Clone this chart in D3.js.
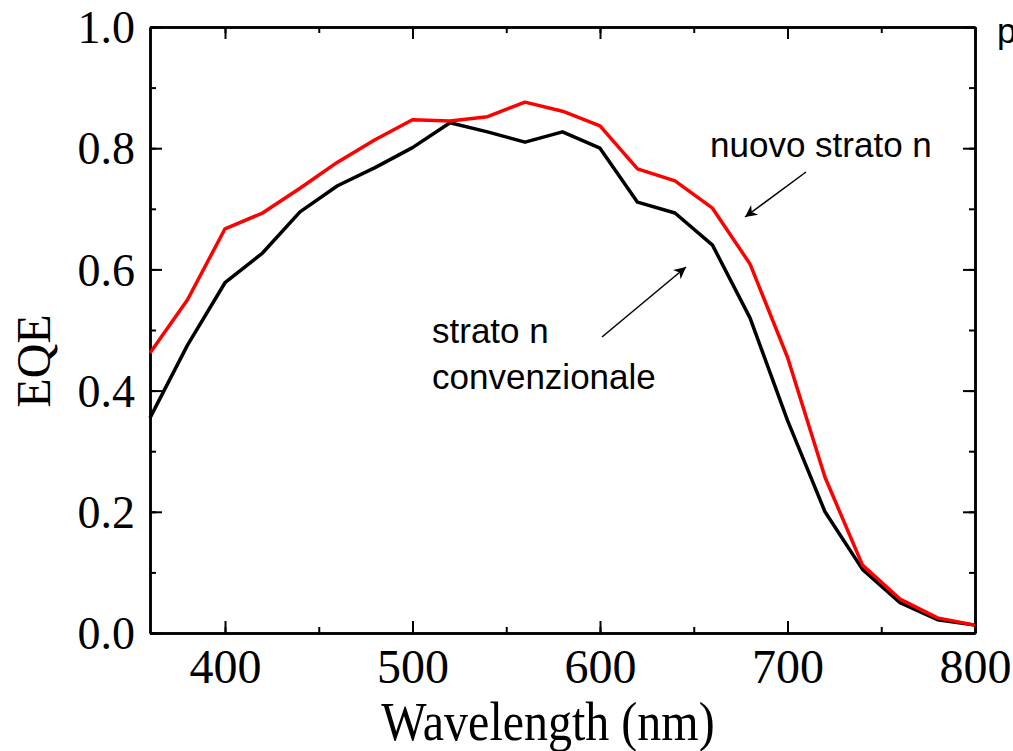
<!DOCTYPE html>
<html>
<head>
<meta charset="utf-8">
<script src="https://cdn.jsdelivr.net/npm/d3@7"></script>
<style>
  body { margin: 0; background: #fff; }
</style>
</head>
<body>
<div id="chart"></div>
<script>
// wavelengths (nm), one point every 20 nm
const wavelength = [360, 380, 400, 420, 440, 460, 480, 500, 520, 540, 560, 580,
  600, 620, 640, 660, 680, 700, 720, 740, 760, 780, 800];
// strato n convenzionale (black)
const eqeConv = [0.355, 0.475, 0.578, 0.627, 0.695, 0.738, 0.768, 0.801, 0.842, 0.827, 0.810, 0.827,
  0.800, 0.711, 0.693, 0.640, 0.520, 0.351, 0.200, 0.105, 0.050, 0.022, 0.013];
// nuovo strato n (red)
const eqeNew = [0.462, 0.550, 0.667, 0.693, 0.734, 0.777, 0.814, 0.847, 0.845, 0.852, 0.876, 0.861,
  0.837, 0.766, 0.746, 0.701, 0.609, 0.455, 0.257, 0.112, 0.056, 0.025, 0.013];
const xTicks = [400, 500, 600, 700, 800];
const yTicks = [0.0, 0.2, 0.4, 0.6, 0.8, 1.0];

const width = 1013, height = 751;
const margin = {top: 27, right: 38, bottom: 118, left: 150};

const svg = d3.select("#chart")
  .append("svg")
  .attr("width", width)
  .attr("height", height);

const x = d3.scaleLinear().domain([360, 800]).range([margin.left, width - margin.right]);
const y = d3.scaleLinear().domain([0, 1]).range([height - margin.bottom, margin.top]);

const serif = "'Liberation Serif', 'Times New Roman', serif";
const sans = "'Liberation Sans', Arial, sans-serif";

// minor ticks every 50 nm / 0.1
const xMinor = d3.range(400, 801, 50);
const yMinor = d3.range(0, 1.01, 0.1);

// bottom axis
const gx = svg.append("g")
  .attr("transform", `translate(0,${y(0)})`)
  .call(d3.axisBottom(x).tickValues(xTicks).tickSize(-12).tickFormat(d3.format("d")).tickSizeOuter(0));
gx.selectAll("text")
  .attr("y", 50).attr("dy", null)
  .attr("font-family", serif).attr("font-size", 48).attr("fill", "#000");
svg.append("g")
  .attr("transform", `translate(0,${y(0)})`)
  .call(d3.axisBottom(x).tickValues(xMinor).tickSize(-6).tickFormat("").tickSizeOuter(0));

// top axis
svg.append("g")
  .attr("transform", `translate(0,${y(1)})`)
  .call(d3.axisTop(x).tickValues(xTicks).tickSize(-12).tickFormat("").tickSizeOuter(0));
svg.append("g")
  .attr("transform", `translate(0,${y(1)})`)
  .call(d3.axisTop(x).tickValues(xMinor).tickSize(-6).tickFormat("").tickSizeOuter(0));

// left axis
const gy = svg.append("g")
  .attr("transform", `translate(${x(360)},0)`)
  .call(d3.axisLeft(y).tickValues(yTicks).tickSize(-12).tickFormat(d3.format(".1f")).tickSizeOuter(0));
gy.selectAll("text")
  .attr("x", -15).attr("dy", "0.34em")
  .attr("font-family", serif).attr("font-size", 46).attr("fill", "#000");
svg.append("g")
  .attr("transform", `translate(${x(360)},0)`)
  .call(d3.axisLeft(y).tickValues(yMinor).tickSize(-6).tickFormat("").tickSizeOuter(0));

// right axis
svg.append("g")
  .attr("transform", `translate(${x(800)},0)`)
  .call(d3.axisRight(y).tickValues(yTicks).tickSize(-12).tickFormat("").tickSizeOuter(0));
svg.append("g")
  .attr("transform", `translate(${x(800)},0)`)
  .call(d3.axisRight(y).tickValues(yMinor).tickSize(-6).tickFormat("").tickSizeOuter(0));

svg.selectAll(".domain").attr("stroke", "#000").attr("stroke-width", 2.5);
svg.selectAll(".tick line").attr("stroke", "#000").attr("stroke-width", 2);

// curves
const line = d3.line()
  .x((d, i) => x(wavelength[i]))
  .y(d => y(d));

svg.append("path")
  .datum(eqeConv)
  .attr("fill", "none")
  .attr("stroke", "#000")
  .attr("stroke-width", 3.5)
  .attr("stroke-linejoin", "round")
  .attr("d", line);

svg.append("path")
  .datum(eqeNew)
  .attr("fill", "none")
  .attr("stroke", "#ff0000")
  .attr("stroke-width", 3.5)
  .attr("stroke-linejoin", "round")
  .attr("d", line);

// axis titles
svg.append("text")
  .attr("transform", "translate(548,740) scale(1,1.15)")
  .attr("text-anchor", "middle")
  .attr("font-family", serif).attr("font-size", 48)
  .text("Wavelength (nm)");

svg.append("text")
  .attr("transform", "translate(50,361) rotate(-90)")
  .attr("text-anchor", "middle")
  .attr("font-family", serif).attr("font-size", 48)
  .text("EQE");

// annotations
svg.append("defs").append("marker")
  .attr("id", "arrow")
  .attr("viewBox", "0 0 10 10")
  .attr("refX", 10).attr("refY", 5)
  .attr("markerWidth", 18).attr("markerHeight", 12)
  .attr("markerUnits", "userSpaceOnUse")
  .attr("orient", "auto")
  .append("path")
  .attr("d", "M0,0 L10,5 L0,10 L3,5 Z")
  .attr("fill", "#000");

const notes = svg.append("g").attr("font-family", sans).attr("font-size", 35).attr("fill", "#000");
notes.append("text").attr("x", 710).attr("y", 157).text("nuovo strato n");
notes.append("text").attr("x", 432).attr("y", 343).text("strato n");
notes.append("text").attr("x", 432).attr("y", 389).text("convenzionale");
notes.append("text").attr("x", 997).attr("y", 43).text("p");

svg.append("line")
  .attr("x1", 806).attr("y1", 172).attr("x2", 745).attr("y2", 217)
  .attr("stroke", "#000").attr("stroke-width", 1.5)
  .attr("marker-end", "url(#arrow)");
svg.append("line")
  .attr("x1", 602).attr("y1", 337).attr("x2", 686).attr("y2", 267)
  .attr("stroke", "#000").attr("stroke-width", 1.5)
  .attr("marker-end", "url(#arrow)");
</script>
</body>
</html>
